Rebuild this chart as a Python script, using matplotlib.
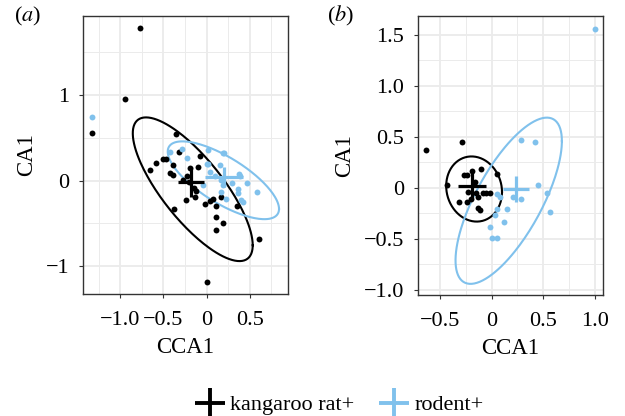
import numpy as np
import matplotlib.pyplot as plt
from matplotlib.lines import Line2D

plt.rcParams['font.family'] = ['Liberation Serif', 'DejaVu Serif']
plt.rcParams['mathtext.fontset'] = 'stix'

BLACK = '#000000'
BLUE = '#80C1EC'

# ---- panel (a) data ----
a_krat_x = [-0.77, -0.94, -1.33, -0.35, -0.32, -0.08, -0.47, -0.50, -0.59, -0.66,
            -0.39, -0.42, -0.39, -0.19, -0.10, -0.27, -0.24, -0.135, -0.02, 0.04,
            0.07, 0.17, 0.11, 0.35, 0.11, 0.185, 0.11, 0.605, -0.38, 0.0,
            -0.23, -0.15, -0.12, -0.20]
a_krat_y = [1.78, 0.95, 0.56, 0.55, 0.33, 0.29, 0.25, 0.25, 0.21, 0.13,
            0.18, 0.09, 0.07, 0.145, 0.16, 0.01, -0.22, -0.19, -0.27, -0.24,
            -0.21, -0.19, -0.30, -0.30, -0.43, -0.50, -0.58, -0.68, -0.33, -1.19,
            0.05, -0.08, -0.12, -0.02]
a_rod_x = [-1.33, -0.42, -0.28, -0.23, 0.02, 0.19, 0.02, 0.0, 0.20, 0.155,
           0.38, 0.39, 0.47, 0.585, 0.17, 0.19, 0.29, 0.37, 0.37, 0.405,
           0.42, 0.23, 0.17, 0.04, -0.04, 0.10]
a_rod_y = [0.75, 0.33, 0.37, 0.27, 0.36, 0.32, 0.19, 0.20, 0.32, 0.18,
           0.075, 0.06, -0.03, -0.135, 0.01, -0.05, -0.03, -0.10, -0.14, -0.225,
           -0.25, -0.21, -0.13, 0.105, -0.05, 0.05]

# ---- panel (b) data ----
b_krat_x = [-0.64, -0.29, -0.435, -0.27, -0.24, -0.19, -0.10, 0.05, -0.32, -0.24,
            -0.20, -0.13, -0.11, -0.15, -0.13, -0.08, -0.05, -0.02, -0.23, -0.16]
b_krat_y = [0.37, 0.45, 0.03, 0.13, 0.13, 0.17, 0.19, 0.14, -0.14, -0.14,
            -0.11, -0.20, -0.22, -0.05, -0.09, -0.05, -0.05, -0.05, -0.04, 0.06]
b_rod_x = [1.0, 0.28, 0.42, 0.45, 0.54, 0.565, 0.05, 0.08, 0.21, 0.28,
           0.145, 0.05, 0.12, 0.03, -0.015, 0.0, 0.05]
b_rod_y = [1.56, 0.47, 0.45, 0.03, -0.045, -0.235, -0.06, -0.09, -0.09, -0.11,
           -0.21, -0.21, -0.33, -0.265, -0.385, -0.49, -0.49]

# ellipses: centre and covariance (sxx, syy, sxy)
a_krat_ell = [(-0.16, -0.10), (0.483, 0.706, -0.455)]
a_rod_ell = [(0.195, 0.005), (0.416, 0.207, -0.216)]
b_krat_ell = [(-0.17, -0.01), (0.073, 0.102, -0.008)]
b_rod_ell = [(0.165, -0.125), (0.265, 0.664, 0.301)]

# crosses: centre, half-width, half-height
a_krat_cross = [(-0.185, -0.01), 0.15, 0.175]
a_rod_cross = [(0.20, 0.045), 0.22, 0.12]
b_krat_cross = [(-0.19, 0.02), 0.14, 0.13]
b_rod_cross = [(0.235, -0.01), 0.13, 0.13]


def draw_ellipse(ax, ell, color):
    (cx, cy), (sxx, syy, sxy) = ell
    cov = np.array([[sxx, sxy], [sxy, syy]])
    L = np.linalg.cholesky(cov)
    t = np.linspace(0, 2 * np.pi, 200)
    circ = np.vstack([np.cos(t), np.sin(t)])
    pts = L @ circ
    ax.plot(cx + pts[0], cy + pts[1], color=color, lw=1.5, zorder=3)


def draw_cross(ax, cross, color):
    (cx, cy), hw, hh = cross
    ax.plot([cx - hw, cx + hw], [cy, cy], color=color, lw=2.3, zorder=5,
            solid_capstyle='butt')
    ax.plot([cx, cx], [cy - hh, cy + hh], color=color, lw=2.3, zorder=5,
            solid_capstyle='butt')


def style_axes(ax, xlim, ylim, xmaj, ymaj, xmin, ymin, xlabels, ylabels):
    ax.set_xlim(xlim)
    ax.set_ylim(ylim)
    ax.set_xticks(xmaj)
    ax.set_xticklabels(xlabels)
    ax.set_yticks(ymaj)
    ax.set_yticklabels(ylabels)
    ax.set_xticks(xmin, minor=True)
    ax.set_yticks(ymin, minor=True)
    ax.grid(True, which='major', color='#EBEBEB', lw=1.3, zorder=0)
    ax.grid(True, which='minor', color='#EBEBEB', lw=0.7, zorder=0)
    ax.set_axisbelow(True)
    ax.tick_params(which='major', length=3, width=0.8, color='#333333',
                   labelsize=16, labelcolor='black')
    ax.tick_params(axis='x', which='major', pad=9)
    ax.tick_params(axis='y', which='major', pad=7)
    ax.tick_params(which='minor', length=0)
    for sp in ax.spines.values():
        sp.set_color('#333333')
        sp.set_linewidth(1.0)
    ax.set_xlabel('CCA1', fontsize=16.5, labelpad=5)
    ax.set_ylabel('CA1', fontsize=16.5, labelpad=6)


fig = plt.figure(figsize=(6.25, 4.16), dpi=100)

ax1 = fig.add_axes([83 / 625, 1 - 294 / 416, 205 / 625, 278 / 416])
ax1.scatter(a_krat_x, a_krat_y, s=18, color=BLACK, zorder=4, linewidths=0)
ax1.scatter(a_rod_x, a_rod_y, s=18, color=BLUE, zorder=4, linewidths=0)
draw_ellipse(ax1, a_krat_ell, BLACK)
draw_ellipse(ax1, a_rod_ell, BLUE)
draw_cross(ax1, a_krat_cross, BLACK)
draw_cross(ax1, a_rod_cross, BLUE)
style_axes(ax1, (-1.432, 0.944), (-1.325, 1.926),
           [-1.0, -0.5, 0, 0.5], [-1, 0, 1],
           [-1.25, -0.75, -0.25, 0.25, 0.75], [-0.5, 0.5, 1.5],
           ['\u22121.0', '\u22120.5', '0', '0.5'], ['\u22121', '0', '1'])

ax2 = fig.add_axes([417.7 / 625, 1 - 295 / 416, 185 / 625, 279 / 416])
ax2.scatter(b_krat_x, b_krat_y, s=18, color=BLACK, zorder=4, linewidths=0)
ax2.scatter(b_rod_x, b_rod_y, s=18, color=BLUE, zorder=4, linewidths=0)
draw_ellipse(ax2, b_krat_ell, BLACK)
draw_ellipse(ax2, b_rod_ell, BLUE)
draw_cross(ax2, b_krat_cross, BLACK)
draw_cross(ax2, b_rod_cross, BLUE)
style_axes(ax2, (-0.716, 1.075), (-1.049, 1.686),
           [-0.5, 0, 0.5, 1.0], [-1.0, -0.5, 0, 0.5, 1.0, 1.5],
           [-0.25, 0.25, 0.75], [-0.75, -0.25, 0.25, 0.75, 1.25],
           ['\u22120.5', '0', '0.5', '1.0'],
           ['\u22121.0', '\u22120.5', '0', '0.5', '1.0', '1.5'])

fig.text(14 / 625, 1 - 16 / 416, r'($\mathit{a}$)', fontsize=16, va='center')
fig.text(327 / 625, 1 - 16 / 416, r'($\mathit{b}$)', fontsize=16, va='center')

handles = [Line2D([], [], color=BLACK, marker='+', ls='none', markersize=21,
                  markeredgewidth=2.8),
           Line2D([], [], color=BLUE, marker='+', ls='none', markersize=21,
                  markeredgewidth=2.8)]
fig.legend(handles, ['kangaroo rat+', 'rodent+'], loc='center',
           bbox_to_anchor=(340 / 625, 11 / 416), ncol=2, frameon=False,
           fontsize=16, handlelength=1.2, handletextpad=0.3, columnspacing=1.2)

fig.savefig('out.png', dpi=100)
